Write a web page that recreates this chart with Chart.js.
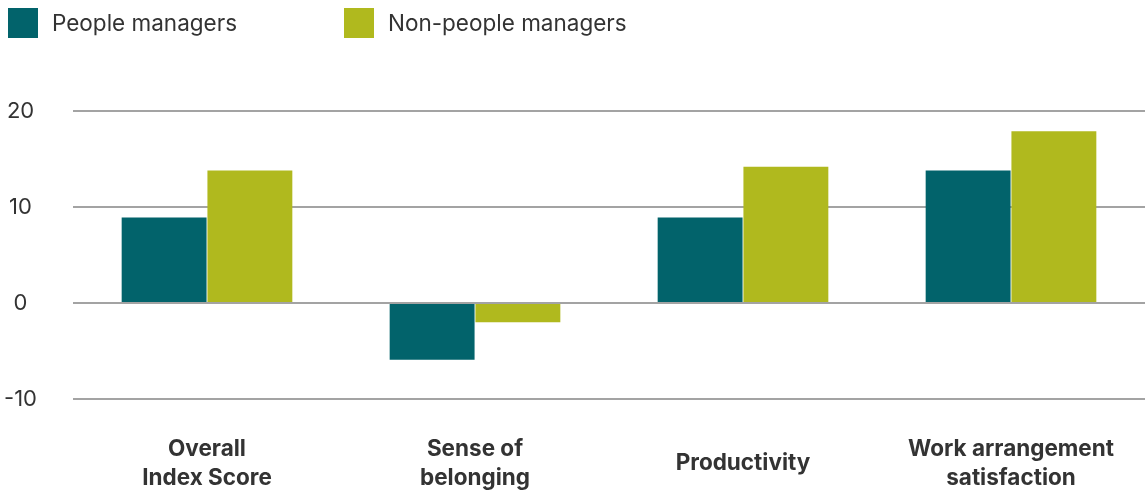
<!DOCTYPE html>
<html>
<head>
<meta charset="utf-8">
<script src="https://cdn.jsdelivr.net/npm/chart.js@4"></script>
<style>
  body { margin: 0; background: #fff; }
  #wrap { position: relative; width: 1145px; height: 490px; }
  #legend { position: absolute; left: 0; top: 0; width: 1145px; height: 50px; font-family: Inter, "Noto Sans", sans-serif; font-size: 22.5px; color: #333; }
  .item { position: absolute; top: 8px; height: 30px; line-height: 30px; white-space: nowrap; }
  .item span.box { position: absolute; left: 0; top: 0; width: 30px; height: 30px; }
  .item span.txt { position: absolute; left: 44px; top: 0; }
</style>
</head>
<body>
<div id="wrap">
  <canvas id="chart"></canvas>
  <div id="legend"></div>
</div>
<script>
const categories = [
  ['Overall', 'Index Score'],
  ['Sense of', 'belonging'],
  'Productivity',
  ['Work arrangement', 'satisfaction']
];
const seriesNames = ['People managers', 'Non-people managers'];
const peopleManagers = [8.9, -5.9, 8.9, 13.8];
const nonPeopleManagers = [13.8, -2, 14.2, 17.9];
const colors = ['#02636b', '#b0b91e'];
const yTicks = [-10, 0, 10, 20];

// legend sits above the canvas, one square per series
const legendX = [8, 344];
const legend = document.getElementById('legend');
seriesNames.forEach(function(name, i) {
  const item = document.createElement('div');
  item.className = 'item';
  item.style.left = legendX[i] + 'px';
  item.innerHTML = '<span class="box" style="background:' + colors[i] + '"></span><span class="txt">' + name + '</span>';
  legend.appendChild(item);
});

const ctx = document.getElementById('chart').getContext('2d');
const myChart = new Chart(ctx, {
  type: 'bar',
  data: {
    labels: categories,
    datasets: [
      {
        label: seriesNames[0],
        data: peopleManagers,
        backgroundColor: colors[0],
        borderWidth: 0,
        categoryPercentage: 0.64,
        barPercentage: 0.99
      },
      {
        label: seriesNames[1],
        data: nonPeopleManagers,
        backgroundColor: colors[1],
        borderWidth: 0,
        categoryPercentage: 0.64,
        barPercentage: 0.99
      }
    ]
  },
  options: {
    responsive: true,
    maintainAspectRatio: false,
    animation: false,
    layout: {
      padding: { top: 111, right: 0, bottom: 0, left: 0 }
    },
    plugins: {
      legend: { display: false },
      tooltip: { enabled: false }
    },
    scales: {
      x: {
        afterFit: function(axis) {
          axis.height = 91;
          // labels fit inside their category, no extra side padding
          axis.paddingLeft = 0;
          axis.paddingRight = 0;
        },
        grid: { display: false, drawTicks: false },
        border: { display: false },
        ticks: {
          padding: 50,
          crossAlign: 'center',
          color: '#333',
          font: { family: 'Inter, "Noto Sans", sans-serif', size: 22.5, weight: 'bold', lineHeight: 1.29 }
        }
      },
      y: {
        min: -10,
        max: 20,
        afterBuildTicks: function(axis) {
          axis.ticks = yTicks.map(function(v) { return { value: v }; });
        },
        afterFit: function(axis) {
          axis.width = 73;
        },
        grid: { color: '#a3a3a3', lineWidth: 2, drawTicks: false },
        border: { display: false },
        ticks: {
          padding: 36,
          crossAlign: 'center',
          color: '#333',
          font: { family: 'Inter, "Noto Sans", sans-serif', size: 22 }
        }
      }
    }
  }
});
</script>
</body>
</html>
